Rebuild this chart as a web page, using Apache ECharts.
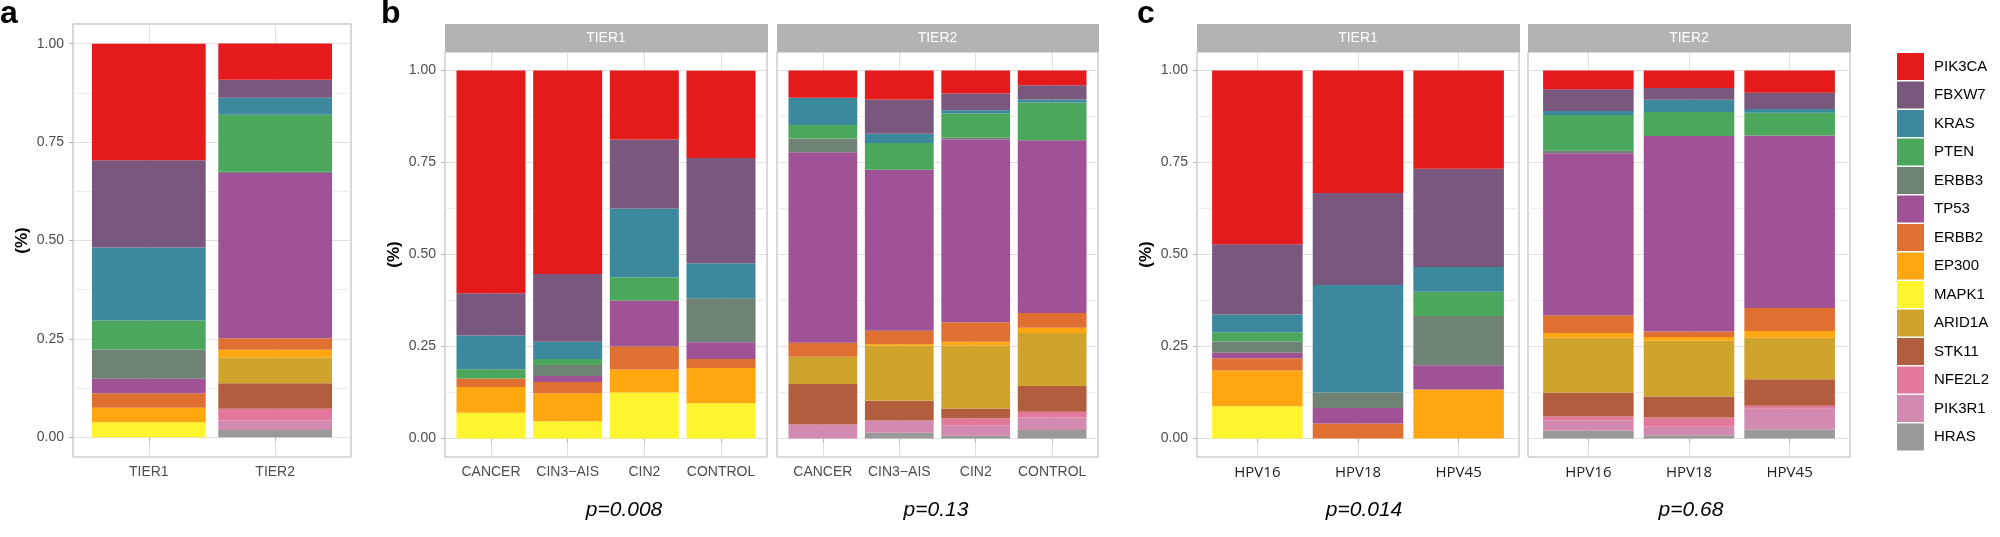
<!DOCTYPE html>
<html>
<head>
<meta charset="utf-8">
<script src="https://cdn.jsdelivr.net/npm/echarts@6/dist/echarts.min.js"></script>
<style>
html,body{margin:0;padding:0;background:#fff;}
#chart{width:2000px;height:537px;}
</style>
</head>
<body>
<div id="chart"></div>
<script>
// ---------- DATA ----------
// Gene order (legend order, top of stack first)
const genes = ['PIK3CA','FBXW7','KRAS','PTEN','ERBB3','TP53','ERBB2','EP300','MAPK1','ARID1A','STK11','NFE2L2','PIK3R1','HRAS'];
const geneColors = ['#E41A1C','#7A577C','#3C899E','#4AA75B','#708273','#A05296','#DF7032','#FFA610','#FFF52F','#CFA42D','#B35D3F','#E4779C','#D38AB0','#999999'];

// Category labels
const catsA = ['TIER1','TIER2'];
const catsB = ['CANCER','CIN3\u2212AIS','CIN2','CONTROL'];
const catsC = ['HPV16','HPV18','HPV45'];

// Y tick labels
const yTicks = [0, 0.25, 0.5, 0.75, 1];
const yMinor = [0.125, 0.375, 0.625, 0.875];

// Panel a (fractions in gene order)
const a_TIER1 = [0.296,0.222,0.185,0.074,0.074,0.037,0.037,0.037,0.038,0,0,0,0,0];
const a_TIER2 = [0.092,0.046,0.043,0.145,0.003,0.420,0.029,0.020,0,0.065,0.065,0.030,0.024,0.0185];

// Panel b, TIER1
const bT1_CANCER  = [0.605,0.115,0.092,0.025,0,0,0.023,0.070,0.070,0,0,0,0,0];
const bT1_CIN3    = [0.553,0.184,0.047,0.016,0.030,0.016,0.031,0.076,0.047,0,0,0,0,0];
const bT1_CIN2    = [0.1875,0.1875,0.1875,0.0625,0,0.125,0.0625,0.0625,0.125,0,0,0,0,0];
const bT1_CONTROL = [0.237,0.286,0.095,0,0.119,0.046,0.024,0.096,0.096,0,0,0,0,0];
// Panel b, TIER2
const bT2_CANCER  = [0.074,0,0.074,0.037,0.037,0.518,0.038,0,0,0.074,0.110,0,0.038,0];
const bT2_CIN3    = [0.079,0.093,0.025,0.073,0,0.437,0.036,0.004,0,0.150,0.054,0,0.033,0.016];
const bT2_CIN2    = [0.063,0.045,0.009,0.065,0.005,0.497,0.053,0.010,0,0.171,0.027,0.019,0.028,0.008];
const bT2_CONTROL = [0.040,0.039,0.008,0.103,0,0.469,0.040,0.014,0,0.144,0.070,0.016,0.034,0.023];

// Panel c, TIER1
const cT1_HPV16 = [0.472,0.191,0.048,0.025,0.031,0.015,0.033,0.097,0.088,0,0,0,0,0];
const cT1_HPV18 = [0.333,0.250,0.292,0,0.042,0.042,0.041,0,0,0,0,0,0,0];
const cT1_HPV45 = [0.267,0.267,0.067,0.066,0.134,0.066,0,0.133,0,0,0,0,0,0];
// Panel c, TIER2
const cT2_HPV16 = [0.051,0.059,0.011,0.097,0.007,0.440,0.048,0.013,0,0.149,0.065,0.010,0.029,0.021];
const cT2_HPV18 = [0.048,0.032,0.033,0.065,0,0.531,0.015,0.010,0,0.152,0.057,0.025,0.023,0.009];
const cT2_HPV45 = [0.061,0.044,0.010,0.062,0,0.468,0.063,0.018,0,0.113,0.072,0.008,0.056,0.025];

const pValues = ['p=0.008','p=0.13','p=0.014','p=0.68'];
const stripLabels = ['TIER1','TIER2','TIER1','TIER2'];

// ---------- LAYOUT ----------
const panels = [
  {cats: catsA, bars: [a_TIER1, a_TIER2], left: 73,   width: 278, top: 24, height: 433, yLabels: true,  strip: null, font: 'Liberation Sans', xfs: 14, xcol: '#4D4D4D', xmargin: 8},
  {cats: catsB, bars: [bT1_CANCER,bT1_CIN3,bT1_CIN2,bT1_CONTROL], left: 445, width: 322, top: 52, height: 405, yLabels: true,  strip: 0, font: 'Liberation Sans', xfs: 14, xcol: '#4D4D4D', xmargin: 8},
  {cats: catsB, bars: [bT2_CANCER,bT2_CIN3,bT2_CIN2,bT2_CONTROL], left: 777, width: 321, top: 52, height: 405, yLabels: false, strip: 1, font: 'Liberation Sans', xfs: 14, xcol: '#4D4D4D', xmargin: 8},
  {cats: catsC, bars: [cT1_HPV16,cT1_HPV18,cT1_HPV45], left: 1197, width: 322, top: 52, height: 405, yLabels: true,  strip: 2, font: 'Open Sans', xfs: 15, xcol: '#222', xmargin: 8},
  {cats: catsC, bars: [cT2_HPV16,cT2_HPV18,cT2_HPV45], left: 1528, width: 322, top: 52, height: 405, yLabels: false, strip: 3, font: 'Open Sans', xfs: 15, xcol: '#222', xmargin: 8}
];

const grids = [], xAxes = [], yAxes = [], series = [], graphics = [];

panels.forEach((p, pi) => {
  grids.push({left: p.left, top: p.top, width: p.width, height: p.height, show: true,
    borderColor: '#B3B3B3', borderWidth: 1, backgroundColor: 'transparent', containLabel: false, outerBoundsMode: 'none'});
  const n = p.cats.length;
  const catIdx = p.cats.map((c, i) => i + 1);
  xAxes.push({
    type: 'value', gridIndex: pi, min: 0.4, max: n + 0.6,
    axisLine: {show: false},
    axisTick: {show: true, customValues: catIdx, length: 4, lineStyle: {color: '#B3B3B3', width: 1}},
    axisLabel: {show: true, customValues: catIdx, margin: p.xmargin,
      formatter: v => p.cats[Math.round(v) - 1],
      fontFamily: p.font, fontSize: p.xfs, color: p.xcol},
    splitLine: {show: true, lineStyle: {color: '#E0E0E0', width: 1}}
  });
  yAxes.push({
    type: 'value', gridIndex: pi, min: -0.05, max: 1.05, position: 'left',
    name: p.yLabels ? '(%)' : '', nameLocation: 'middle', nameGap: 42,
    nameTextStyle: {fontFamily: 'Liberation Sans', fontSize: 17, fontWeight: 'bold', color: '#000'},
    axisLine: {show: false},
    axisTick: {show: p.yLabels, customValues: yTicks, length: 4, lineStyle: {color: '#B3B3B3', width: 1}},
    axisLabel: {show: p.yLabels, customValues: yTicks, margin: 9,
      formatter: v => v.toFixed(2), fontFamily: 'Liberation Sans', fontSize: 14, color: '#4D4D4D'},
    splitLine: {show: true, lineStyle: {color: '#E0E0E0', width: 1}}
  });
  yAxes.push({
    type: 'value', gridIndex: pi, min: -0.05, max: 1.05, position: 'left',
    axisLine: {show: false},
    axisTick: {show: false, customValues: yMinor},
    axisLabel: {show: false},
    splitLine: {show: true, lineStyle: {color: '#EFEFEF', width: 1}}
  });
  // stacked series: bottom of stack first (HRAS ... PIK3CA)
  // data items are [value, position] so that the value dimension is the stacked one
  for (let gi = genes.length - 1; gi >= 0; gi--) {
    series.push({
      type: 'bar', name: genes[gi], stack: 'p' + pi,
      xAxisIndex: pi, yAxisIndex: pi * 2,
      barWidth: '90%',
      encode: {x: 1, y: 0},
      itemStyle: {color: geneColors[gi]},
      emphasis: {disabled: true},
      data: p.bars.map((bar, ci) => [bar[gi], ci + 1])
    });
  }
  if (p.strip !== null) {
    graphics.push({type: 'rect', shape: {x: p.left, y: 24, width: p.width + 1, height: 28},
      style: {fill: '#B3B3B3'}, silent: true});
    graphics.push({type: 'text', x: p.left + p.width / 2, y: 38,
      style: {text: stripLabels[p.strip], fill: '#fff', font: '14px "Liberation Sans"', align: 'center', verticalAlign: 'middle'}, silent: true});
  }
});

// panel letters
[['a', 0], ['b', 381], ['c', 1137]].forEach(([t, x]) => {
  graphics.push({type: 'text', x: x, y: 14,
    style: {text: t, fill: '#000', font: 'bold 32px "Liberation Sans"', align: 'left', verticalAlign: 'middle'}, silent: true});
});
// p-values
[[624, 0], [936, 1], [1364, 2], [1691, 3]].forEach(([x, i]) => {
  graphics.push({type: 'text', x: x, y: 510,
    style: {text: pValues[i], fill: '#000', font: 'italic 21px "Liberation Sans"', align: 'center', verticalAlign: 'middle'}, silent: true});
});

const chart = echarts.init(document.getElementById('chart'), null, {renderer: 'canvas'});
chart.setOption({
  animation: false,
  backgroundColor: '#fff',
  grid: grids,
  xAxis: xAxes,
  yAxis: yAxes,
  series: series,
  legend: {
    data: genes, orient: 'vertical', left: 1892, top: 48,
    icon: 'rect', itemWidth: 27, itemHeight: 27, itemGap: 1.5,
    selectedMode: false,
    textStyle: {fontFamily: 'Liberation Sans', fontSize: 15, color: '#000', padding: [0, 0, 0, 5]}
  },
  graphic: graphics
});
</script>
</body>
</html>
